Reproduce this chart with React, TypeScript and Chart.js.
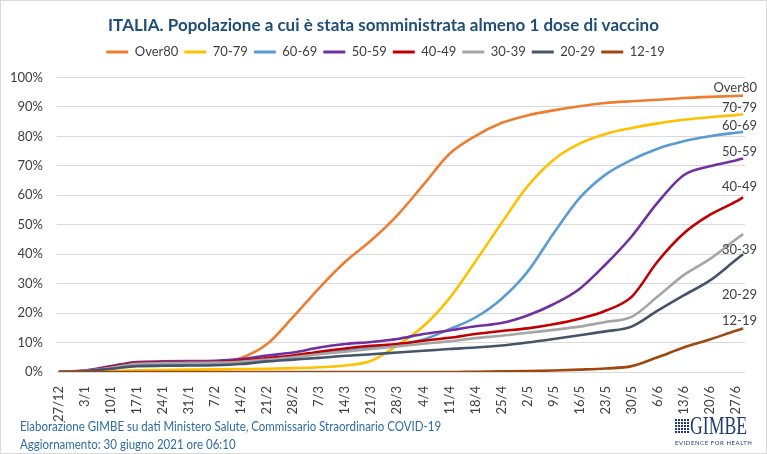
import React, { useEffect, useRef } from "react";
import { Chart, registerables } from "chart.js";

Chart.register(...registerables);

const TITLE = "ITALIA. Popolazione a cui è stata somministrata almeno 1 dose di vaccino";

const TICK_LABELS = [
  "27/12", "3/1", "10/1", "17/1", "24/1", "31/1", "7/2", "14/2", "21/2", "28/2",
  "7/3", "14/3", "21/3", "28/3", "4/4", "11/4", "18/4", "25/4", "2/5", "9/5",
  "16/5", "23/5", "30/5", "6/6", "13/6", "20/6", "27/6",
];

// day index from 27/12/2020
const DAYS = [
  0, 7, 14, 21, 28, 35, 42, 49, 56, 63, 70, 77, 84, 91, 98, 105, 112, 119, 126, 133,
  140, 147, 154, 161, 168, 175, 182, 184,
];

const SERIES_NAMES = ["Over80", "70-79", "60-69", "50-59", "40-49", "30-39", "20-29", "12-19"];

const OVER80 = [0, 0.3, 1.3, 2.6, 2.9, 3.0, 3.1, 4.8, 9.5, 18.7, 28.5, 37.4, 44.7, 53.2, 63.5, 74.0, 80.1, 84.5, 87.1, 88.8, 90.2, 91.3, 91.9, 92.4, 93.0, 93.4, 93.7, 93.8];
const AGE_70_79 = [0, 0.1, 0.3, 0.6, 0.7, 0.8, 0.9, 1.0, 1.1, 1.3, 1.6, 2.2, 3.8, 9.0, 15.5, 25.0, 37.5, 50.5, 63.0, 72.0, 77.5, 80.8, 82.8, 84.4, 85.6, 86.5, 87.2, 87.5];
const AGE_60_69 = [0, 0.3, 1.3, 2.5, 2.7, 2.8, 3.0, 3.4, 4.4, 5.2, 6.4, 7.4, 8.2, 9.0, 11.0, 14.5, 18.5, 24.8, 34.0, 47.0, 59.0, 67.0, 72.0, 75.8, 78.3, 80.0, 81.2, 81.5];
const AGE_50_59 = [0, 0.5, 2.0, 3.4, 3.6, 3.7, 3.8, 4.4, 5.6, 6.6, 8.3, 9.5, 10.2, 11.2, 12.9, 14.1, 15.5, 16.6, 19.2, 23.0, 28.2, 36.5, 46.0, 57.5, 66.8, 69.8, 71.8, 72.5];
const AGE_40_49 = [0, 0.4, 1.6, 3.0, 3.2, 3.3, 3.4, 3.9, 4.7, 5.6, 6.9, 8.0, 8.9, 9.5, 10.6, 11.6, 12.9, 13.9, 14.8, 16.2, 18.1, 20.8, 25.5, 37.5, 47.0, 53.3, 57.8, 59.3];
const AGE_30_39 = [0, 0.4, 1.4, 2.8, 3.0, 3.1, 3.2, 3.5, 4.2, 5.0, 6.0, 6.9, 7.8, 8.7, 9.6, 10.4, 11.5, 12.3, 13.3, 14.3, 15.4, 17.0, 18.7, 25.6, 32.9, 38.3, 45.0, 46.8];
const AGE_20_29 = [0, 0.3, 1.1, 2.0, 2.1, 2.2, 2.3, 2.7, 3.6, 4.2, 4.8, 5.5, 6.0, 6.6, 7.2, 7.8, 8.3, 9.0, 10.0, 11.2, 12.5, 13.8, 15.4, 20.8, 26.0, 31.0, 38.0, 40.0];
const AGE_12_19 = [0, 0, 0, 0, 0, 0, 0, 0, 0, 0, 0, 0, 0, 0, 0, 0, 0.1, 0.2, 0.3, 0.5, 0.8, 1.2, 2.0, 5.0, 8.3, 11.0, 14.0, 14.8];

const Y_TICKS = [0, 10, 20, 30, 40, 50, 60, 70, 80, 90, 100];

const COLORS = ["#ED7D31", "#FFC000", "#5B9BD5", "#7030A0", "#C00000", "#A5A5A5", "#44546A", "#9E480E"];
const END_LABEL_DY = [-8, -6, -6, -7, -10, 16, 41, -8];
const FONT = "Lato, 'Liberation Sans', sans-serif";
const TEXT_COLOR = "#404040";

const endLabels = {
  id: "endLabels",
  afterDatasetsDraw(chart: any) {
    const ctx = chart.ctx;
    ctx.save();
    ctx.font = `13px ${FONT}`;
    ctx.fillStyle = TEXT_COLOR;
    ctx.textAlign = "right";
    ctx.textBaseline = "middle";
    chart.data.datasets.forEach((ds: any, i: number) => {
      const meta = chart.getDatasetMeta(i);
      const pt = meta.data[meta.data.length - 1];
      if (!pt) return;
      ctx.fillText(ds.label, chart.chartArea.right + 12, pt.y + END_LABEL_DY[i]);
    });
    ctx.restore();
  },
};

// extra room below the legend, and header boxes centred on the whole page
const headerTweaks = {
  id: "headerTweaks",
  beforeLayout(chart: any) {
    const lg = chart.legend;
    if (lg && !lg.__gapPatched) {
      const orig = lg.fit;
      lg.fit = function () {
        orig.call(this);
        this.height += 9;
      };
      lg.__gapPatched = true;
    }
  },
  afterLayout(chart: any) {
    const shift = (box: any, dx: number) => {
      if (!box) return;
      box.left += dx;
      box.right += dx;
    };
    shift(chart.titleBlock, 11);
    shift(chart.legend, 13);
  },
};

export default function App() {
  const ref = useRef<HTMLCanvasElement>(null);

  useEffect(() => {
    const canvas = ref.current;
    if (!canvas) return;
    const values = [OVER80, AGE_70_79, AGE_60_69, AGE_50_59, AGE_40_49, AGE_30_39, AGE_20_29, AGE_12_19];
    const chart = new Chart(canvas, {
      type: "line",
      data: {
        datasets: SERIES_NAMES.map((name, i) => ({
          label: name,
          data: DAYS.map((d, j) => ({ x: d, y: values[i][j] })),
          borderColor: COLORS[i],
          backgroundColor: COLORS[i],
          borderWidth: 2.6,
          pointRadius: 0,
          cubicInterpolationMode: "monotone",
          order: SERIES_NAMES.length - i,
        })),
      },
      options: {
        responsive: false,
        animation: false,
        layout: { padding: { top: 11, right: 22, bottom: 0, left: 0 } },
        plugins: {
          title: {
            display: true,
            text: TITLE,
            color: "#1F4E79",
            font: { family: FONT, size: 17, weight: "bold" },
            padding: { top: 4, bottom: 4 },
          },
          legend: {
            position: "top",
            labels: {
              boxWidth: 22,
              boxHeight: 3,
              padding: 6,
              color: TEXT_COLOR,
              font: { family: FONT, size: 13 },
              generateLabels: (c: any) =>
                c.data.datasets.map((ds: any, i: number) => ({
                  text: ds.label,
                  fillStyle: COLORS[i],
                  strokeStyle: COLORS[i],
                  lineWidth: 0,
                  hidden: false,
                  datasetIndex: i,
                  fontColor: TEXT_COLOR,
                })),
            },
          },
          tooltip: { enabled: false },
        },
        scales: {
          x: {
            type: "linear",
            min: -0.5,
            max: 184.5,
            grid: { display: false },
            border: { display: false },
            afterBuildTicks: (s: any) => {
              s.ticks = TICK_LABELS.map((_, i) => ({ value: i * 7 }));
            },
            afterFit: (s: any) => {
              s.height = 82;
            },
            ticks: {
              autoSkip: false,
              maxRotation: 90,
              minRotation: 90,
              padding: 6,
              color: TEXT_COLOR,
              font: { family: FONT, size: 13 },
              callback: (v: any) => TICK_LABELS[Math.round(Number(v) / 7)] ?? "",
            },
          },
          y: {
            min: 0,
            max: 100,
            afterBuildTicks: (s: any) => {
              s.ticks = Y_TICKS.map((v) => ({ value: v }));
            },
            afterFit: (s: any) => {
              s.width = 57;
            },
            grid: { color: "#D9D9D9", lineWidth: 1, drawTicks: false },
            border: { display: false },
            ticks: {
              padding: 14,
              color: TEXT_COLOR,
              font: { family: FONT, size: 13 },
              callback: (v: any) => `${v}%`,
            },
          },
        },
      },
      plugins: [headerTweaks, endLabels],
    } as any);
    return () => chart.destroy();
  }, []);

  const footStyle: React.CSSProperties = {
    position: "absolute",
    left: 20,
    fontFamily: FONT,
    fontSize: 12.5,
    color: "#2E6DA4",
    whiteSpace: "nowrap",
    lineHeight: "16px",
    transform: "scaleX(0.92)",
    transformOrigin: "left center",
  };

  return (
    <div
      style={{
        position: "fixed",
        left: 0,
        top: 0,
        width: 767,
        height: 454,
        background: "#fff",
        overflow: "hidden",
      }}
    >
      <canvas ref={ref} width={767} height={454} style={{ position: "absolute", left: 0, top: 0, display: "block" }} />
      <div style={{ ...footStyle, top: 419 }}>
        Elaborazione GIMBE su dati Ministero Salute, Commissario Straordinario COVID-19
      </div>
      <div style={{ ...footStyle, top: 437 }}>Aggiornamento: 30 giugno 2021 ore 06:10</div>
      <div style={{ position: "absolute", left: 675, top: 415, color: "#1F3B73" }}>
        <div style={{ display: "flex", alignItems: "center", height: 22 }}>
          <div
            style={{
              width: 14,
              height: 14,
              flex: "none",
              marginRight: 1,
              backgroundColor: "#1F3B73",
              backgroundImage:
                "repeating-linear-gradient(90deg, transparent 0 2px, #fff 2px 3px), repeating-linear-gradient(0deg, transparent 0 2px, #fff 2px 3px)",
            }}
          />
          <div
            style={{
              fontFamily: "'Liberation Serif', 'DejaVu Serif', serif",
              fontSize: 26,
              lineHeight: "22px",
              whiteSpace: "nowrap",
              transform: "scaleX(0.68)",
              transformOrigin: "left center",
            }}
          >
            GIMBE
          </div>
        </div>
        <div style={{ fontFamily: FONT, fontSize: 6, letterSpacing: 0.55, marginTop: 2, whiteSpace: "nowrap" }}>
          EVIDENCE FOR HEALTH
        </div>
      </div>
      <div
        style={{
          position: "absolute",
          inset: 0,
          border: "1px solid #D9D9D9",
          pointerEvents: "none",
        }}
      />
    </div>
  );
}
